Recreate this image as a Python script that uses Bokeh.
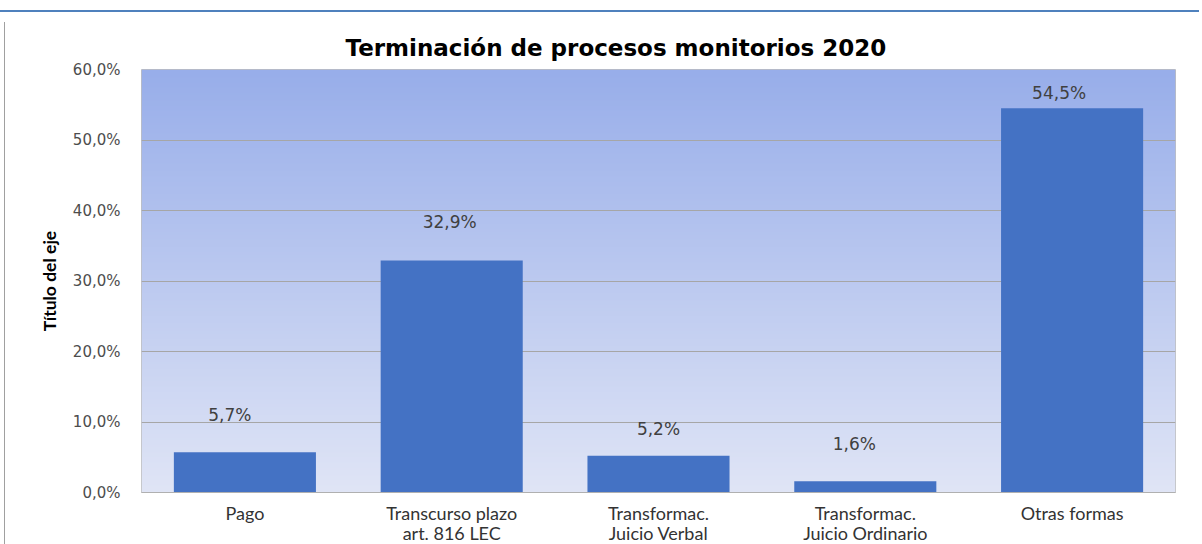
import numpy as np
from bokeh.plotting import figure
from bokeh.models import ColumnDataSource, FactorRange, Range1d, FixedTicker, LabelSet, Title, Div
from bokeh.core.properties import value
from bokeh.layouts import column, row
from bokeh.embed import file_html
from bokeh.resources import INLINE

# ---------------- data ----------------
categories = ["Pago", "Transcurso plazo\nart. 816 LEC", "Transformac.\nJuicio Verbal",
              "Transformac.\nJuicio Ordinario", "Otras formas"]
values = [5.7, 32.9, 5.2, 1.6, 54.5]
value_labels = ["5,7%", "32,9%", "5,2%", "1,6%", "54,5%"]
tick_values = [0, 10, 20, 30, 40, 50, 60]
tick_labels = ["0,0%", "10,0%", "20,0%", "30,0%", "40,0%", "50,0%", "60,0%"]
title_text = "Terminación de procesos monitorios 2020"
y_title = "Título del eje"

# ---------------- style ----------------
label_dx = [-15, -2, 0, -11, -13]   # px offsets of the data labels (as placed in the original)
label_dy = [31, 33, 21, 31, 9]
bar_color = "#4472c4"
grad_top = np.array([152, 174, 234])
grad_bottom = np.array([224, 229, 246])

src = ColumnDataSource(dict(cat=categories, val=values, lab=value_labels,
                            dx=label_dx, dy=label_dy))

p = figure(width=1186, height=529, x_range=FactorRange(factors=categories),
           y_range=Range1d(0, 60), output_backend="svg", toolbar_location=None,
           min_border_left=131, min_border_right=21, min_border_top=52, min_border_bottom=51)

# gradient plot-area background
n = 256
t = np.linspace(0, 1, n)
rgb = grad_bottom[None, :] + (grad_top - grad_bottom)[None, :] * t[:, None]
img = np.empty((n, 1), dtype=np.uint32)
view = img.view(dtype=np.uint8).reshape((n, 1, 4))
view[:, 0, 0] = rgb[:, 0]
view[:, 0, 1] = rgb[:, 1]
view[:, 0, 2] = rgb[:, 2]
view[:, 0, 3] = 255
p.image_rgba(image=[img], x=0, y=0, dw=len(categories), dh=tick_values[-1], level="image")

p.vbar(x="cat", top="val", width=0.687, source=src, fill_color=bar_color, line_color=None)

labels = LabelSet(x="cat", y="val", text="lab", x_offset="dx", y_offset="dy", source=src,
                  text_align="center", text_baseline="alphabetic",
                  text_font=value("DejaVu Sans"), text_font_size=value("17px"),
                  text_color="#404040")
p.add_layout(labels)

p.title = Title(text=title_text, align="left", offset=204, text_font="DejaVu Sans",
                text_font_size="23px", text_font_style="bold", text_color="#000000", standoff=17)

p.background_fill_color = "white"
p.border_fill_color = "white"
p.outline_line_color = "#bfbfbf"
p.outline_line_width = 1

# axes
ticker = FixedTicker(ticks=tick_values)
p.yaxis.ticker = ticker
p.ygrid.ticker = ticker
p.yaxis.major_label_overrides = {v: s for v, s in zip(tick_values, tick_labels)}
p.yaxis.axis_line_color = None
p.yaxis.major_tick_line_color = None
p.yaxis.minor_tick_line_color = None
p.yaxis.major_label_text_font = "DejaVu Sans"
p.yaxis.major_label_text_font_size = "15px"
p.yaxis.major_label_text_color = "#4d4d4d"
p.yaxis.major_label_standoff = 15
p.yaxis.axis_label = y_title
p.yaxis.axis_label_text_font = "Lato"
p.yaxis.axis_label_text_font_style = "bold"
p.yaxis.axis_label_text_font_size = "17.5px"
p.yaxis.axis_label_text_color = "#000000"
p.yaxis.axis_label_standoff = 10

p.xaxis.axis_line_color = "#b0b0b0"
p.xaxis.major_tick_line_color = None
p.xaxis.minor_tick_line_color = None
p.xaxis.major_label_text_font = "Lato"
p.xaxis.major_label_text_font_size = "18px"
p.xaxis.major_label_text_line_height = 0.93
p.xaxis.major_label_text_color = "#333333"
p.xaxis.major_label_standoff = 3

p.xgrid.grid_line_color = None
p.ygrid.grid_line_color = "#a6a6a6"
p.ygrid.grid_line_width = 1

top_strip = Div(text="", width=1202, height=7,
                styles={"background": "linear-gradient(to bottom, #ffffff 5px, #4f81bd 5px)"})
left_edge = Div(text="", width=8, height=529,
                styles={"background": "linear-gradient(to right, #ffffff 7px, #a0a0a0 7px)"})

layout = column(top_strip, row(left_edge, p, spacing=0), spacing=0,
                styles={"margin-bottom": "-8px", "margin-left": "-8px"})

open("out.html", "w").write(file_html(layout, INLINE))
